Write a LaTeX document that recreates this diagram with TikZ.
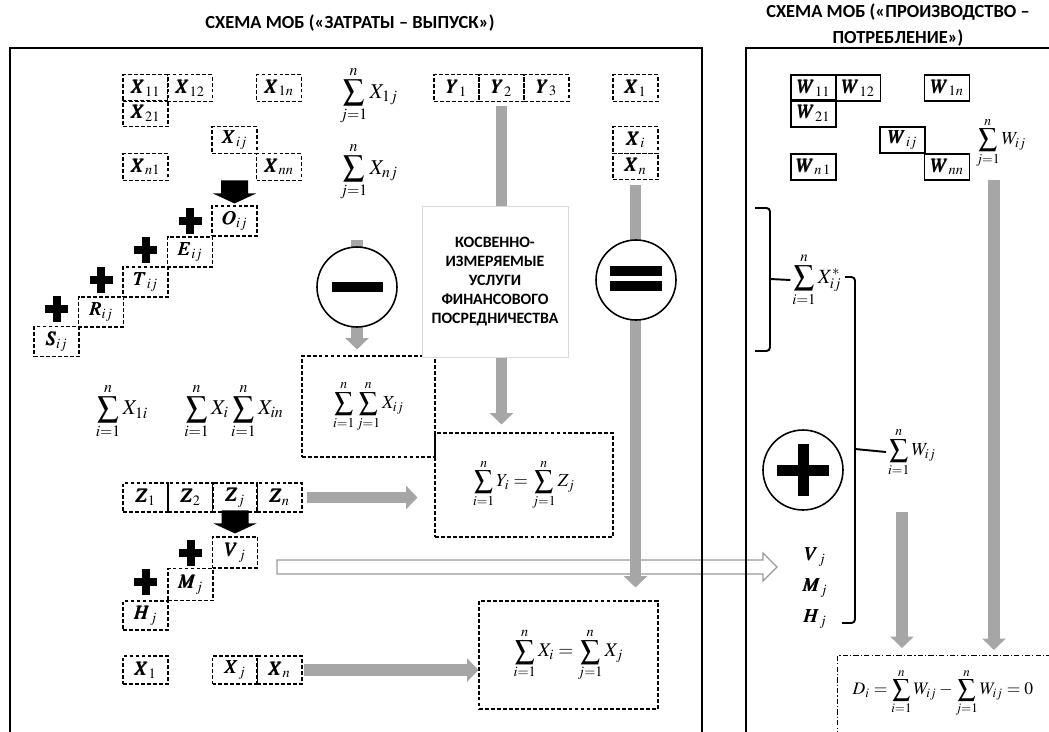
\documentclass[tikz,border=0pt]{standalone}
\usepackage{amsmath}
\usepackage{mathptmx}
\usepackage{bm}
\usepackage[no-math]{fontspec}
\newfontfamily\capsfont{Carlito}
\usetikzlibrary{arrows.meta,calc}
\definecolor{gshade}{HTML}{A6A6A6}

\begin{document}
\begin{tikzpicture}[x=0.02cm, y=-0.02cm,
    cell/.style={draw, dash pattern=on 2.2pt off 1.2pt, line width=0.6pt, minimum width=0.9cm, minimum height=0.53cm, inner sep=0pt, font=\fontsize{11}{13}\selectfont},
    tallcell/.style={cell, minimum height=0.6cm},
    wcell/.style={draw, line width=0.9pt, minimum width=0.9cm, minimum height=0.53cm, inner sep=0pt, font=\fontsize{11}{13}\selectfont},
    sumf/.style={inner sep=1pt, font=\fontsize{10.5}{12}\selectfont},
    sumbig/.style={inner sep=1pt, font=\fontsize{12}{14}\selectfont},
    bigbox/.style={draw, dash pattern=on 2.2pt off 1.2pt, line width=0.6pt, inner sep=0pt, font=\fontsize{10.5}{12}\selectfont},
    frame/.style={line width=0.8pt},
    gshaft/.style={draw=gshade, line width=6.5pt},
    gtip/.style={-{Triangle[width=13pt,length=6.5pt]}},
    bracket/.style={line width=1.1pt, rounded corners=2pt},
    blkdown/.pic={\fill (-13.5,-25) -- (13.5,-25) -- (13.5,-12) -- (21.5,-12) -- (0,-2) -- (-21.5,-12) -- (-13.5,-12) -- cycle;},
    blkplus/.pic={\fill (-4,-13) rectangle (4,13); \fill (-11.5,-4) rectangle (11.5,4);}]
    \useasboundingbox (0,0) rectangle (1049,731);

    % titles
    \node[font=\capsfont\bfseries\fontsize{10.5}{14.7}\selectfont] (t1) at (350,23) {СХЕМА МОБ («ЗАТРАТЫ – ВЫПУСК»)};
    \node[font=\capsfont\bfseries\fontsize{10.5}{14.7}\selectfont, align=center] (t2) at (898,25) {СХЕМА МОБ («ПРОИЗВОДСТВО –\\ПОТРЕБЛЕНИЕ»)};

    % hollow arrow to the right panel
    \draw[line width=0.7pt, draw=gray!80, fill=white] (277,560) -- (763,560) -- (763,553) -- (777,567) -- (763,581) -- (763,574) -- (277,574) -- cycle;

    % panels
    \draw[frame] (10,745) -- (10,48) -- (702,48) -- (702,745);
    \draw[frame] (746,745) -- (746,48) -- (1060,48);

    % matrix X
    \node[cell] (X11) at (145.5,88) {$\bm{X_{11}}$};
    \node[cell] (X12) at (190,88) {$\bm{X_{12}}$};
    \node[cell] (X1n) at (279,88) {$\bm{X_{1n}}$};
    \node[cell] (X21) at (145.5,113.5) {$\bm{X_{21}}$};
    \node[cell] (Xij) at (234.5,140) {$\bm{X_{ij}}$};
    \node[cell] (Xn1) at (145.5,167) {$\bm{X_{n1}}$};
    \node[cell] (Xnn) at (279,167) {$\bm{X_{nn}}$};

    \node[sumbig] (S1j) at (369,96) {$\displaystyle\sum_{j=1}^{n} X_{1j}$};
    \node[sumbig] (Snj) at (369,172) {$\displaystyle\sum_{j=1}^{n} X_{nj}$};

    % staircase
    \node[tallcell] (Oij) at (234.5,221) {$\bm{O_{ij}}$};
    \node[tallcell] (Eij) at (190,252) {$\bm{E_{ij}}$};
    \node[tallcell] (Tij) at (145.5,282) {$\bm{T_{ij}}$};
    \node[tallcell] (Rij) at (101,312) {$\bm{R_{ij}}$};
    \node[tallcell] (Sij) at (56.5,341.5) {$\bm{S_{ij}}$};
    \pic at (Oij.north) {blkdown};
    \pic at ([yshift=0.31cm]Eij.north) {blkplus};
    \pic at ([yshift=0.33cm]Tij.north) {blkplus};
    \pic at ([yshift=0.32cm]Rij.north) {blkplus};
    \pic at ([yshift=0.33cm]Sij.north) {blkplus};

    % Y and X columns
    \node[cell] (Y1) at (456.5,88) {$\bm{Y_{1}}$};
    \node[cell] (Y2) at (501.5,88) {$\bm{Y_{2}}$};
    \node[cell] (Y3) at (546.5,88) {$\bm{Y_{3}}$};
    \node[cell] (Xr1) at (635.5,88) {$\bm{X_{1}}$};
    \node[cell] (Xri) at (635.5,140) {$\bm{X_{i}}$};
    \node[cell] (Xrn) at (635.5,166.5) {$\bm{X_{n}}$};

    % column sums
    \node[sumbig] (S1i) at (122,411) {$\displaystyle\sum_{i=1}^{n} X_{1i}$};
    \node[sumbig] (Sin) at (234,411) {$\displaystyle\sum_{i=1}^{n} X_{i}\sum_{i=1}^{n} X_{in}$};
    \node[bigbox, minimum width=2.66cm, minimum height=2.02cm] (dbl) at (368.5,406.5) {$\displaystyle\sum_{i=1}^{n}\sum_{j=1}^{n} X_{ij}$};
    \node[bigbox, minimum width=3.56cm, minimum height=2.08cm] (YZ) at (524,485) {$\displaystyle\sum_{i=1}^{n} Y_{i}=\sum_{j=1}^{n} Z_{j}$};
    \node[bigbox, minimum width=3.58cm, minimum height=2.16cm, font=\fontsize{11}{13}\selectfont] (XX) at (568.5,655) {$\displaystyle\sum_{i=1}^{n} X_{i}=\sum_{j=1}^{n} X_{j}$};

    % Z, V, M, H and X rows
    \node[cell, minimum height=0.58cm] (Z1) at (145.5,497.5) {$\bm{Z_{1}}$};
    \node[cell, minimum height=0.58cm] (Z2) at (190.5,497.5) {$\bm{Z_{2}}$};
    \node[cell, minimum height=0.58cm] (Zj) at (235,497.5) {$\bm{Z_{j}}$};
    \node[cell, minimum height=0.58cm] (Zn) at (279.5,497.5) {$\bm{Z_{n}}$};
    \node[tallcell, minimum height=0.62cm] (Vj) at (235,552.5) {$\bm{V_{j}}$};
    \node[tallcell, minimum height=0.64cm] (Mj) at (190.5,584.5) {$\bm{M_{j}}$};
    \node[tallcell, minimum height=0.58cm] (Hj) at (145.5,615.5) {$\bm{H_{j}}$};
    \pic at ([yshift=0.02cm]Vj.north) {blkdown};
    \pic at ([yshift=0.3cm]Mj.north) {blkplus};
    \pic at ([yshift=0.36cm]Hj.north) {blkplus};
    \node[cell, minimum height=0.56cm] (Xb1) at (145.5,670) {$\bm{X_{1}}$};
    \node[cell, minimum height=0.56cm] (Xbj) at (235,670) {$\bm{X_{j}}$};
    \node[cell, minimum height=0.56cm] (Xbn) at (279.5,670) {$\bm{X_{n}}$};

    % right panel
    \node[wcell] (W11) at (813.5,88) {$\bm{W_{11}}$};
    \node[wcell] (W12) at (858,88) {$\bm{W_{12}}$};
    \node[wcell] (W1n) at (947,88) {$\bm{W_{1n}}$};
    \node[wcell] (W21) at (813.5,113.5) {$\bm{W_{21}}$};
    \node[wcell] (Wij) at (902.5,140) {$\bm{W_{ij}}$};
    \node[wcell] (Wn1) at (813.5,167) {$\bm{W_{n\,1}}$};
    \node[wcell] (Wnn) at (947,167) {$\bm{W_{nn}}$};
    \node[sumf] (SWj) at (1001,143) {$\displaystyle\sum_{j=1}^{n} W_{ij}$};
    \node[sumf, font=\fontsize{11.5}{13}\selectfont] (SXs) at (817,280) {$\displaystyle\sum_{i=1}^{n} X^{*}_{ij}$};
    \node[sumf] (SWi) at (912,452) {$\displaystyle\sum_{i=1}^{n} W_{ij}$};
    \node[font=\fontsize{11}{13}\selectfont] (Vr) at (815,557) {$\bm{V_{j}}$};
    \node[font=\fontsize{11}{13}\selectfont] (Mr) at (815,588) {$\bm{M_{j}}$};
    \node[font=\fontsize{11}{13}\selectfont] (Hr) at (815,619) {$\bm{H_{j}}$};
    \node[draw, dash pattern=on 3pt off 1.2pt on 0.7pt off 1.2pt, line width=0.6pt, anchor=north west, minimum width=5cm, minimum height=2cm] (Dbox) at (837,655) {};
    \node[font=\fontsize{10}{12}\selectfont] (Dfm) at (943,693) {$\displaystyle D_{i}=\sum_{i=1}^{n} W_{ij}-\sum_{j=1}^{n} W_{ij}=0$};

    \draw[bracket] (755,208) -- (770,208) -- (770,351) -- (755,351);
    \draw[line width=1.1pt] (770,279) -- (SXs.west);
    \draw[bracket] (845,277) -- (855,277) -- (855,623) -- (842,623);
    \draw[line width=1.1pt] (855,449) -- (SWi.west);

    % grey flows
    \coordinate (mtop) at (357,240);
    \coordinate (wtop) at (994,180);
    \coordinate (wmid) at (902,512);
    \draw[gshaft, gtip, shorten <=0.08cm, shorten >=0.16cm] (Y2.south) -- (Y2.south |- YZ.north);
    \draw[gshaft, gtip, shorten >=0.12cm] (mtop) -- (mtop |- dbl.north);
    \draw[gshaft, gtip, shorten <=0.1cm, shorten >=0.26cm] (Xrn.south) -- (Xrn.south |- XX.north);
    \draw[gshaft, gtip, shorten <=0.08cm, shorten >=0.34cm] (Zn.east) -- (Zn.east -| YZ.west);
    \draw[gshaft, gtip, shorten <=0.02cm] (Xbn.east) -- (Xbn.east -| XX.west);
    \draw[gshaft, gtip, shorten >=0.1cm] (wtop) -- (wtop |- Dbox.north);
    \draw[gshaft, gtip, shorten >=0.14cm] (wmid) -- (wmid |- Dbox.north);

    % services box and signs
    \node[draw=gray!30, fill=white, minimum width=2.92cm, minimum height=3.02cm, align=center, font=\capsfont\bfseries\fontsize{9}{10.8}\selectfont] (kbox) at (495,281.5) {КОСВЕННО-\\ИЗМЕРЯЕМЫЕ\\УСЛУГИ\\ФИНАНСОВОГО\\ПОСРЕДНИЧЕСТВА};
    \node[circle, draw, line width=0.9pt, fill=white, minimum size=1.6cm, inner sep=0pt] (minus) at (357,287) {};
    \fill ($(minus)+(-25.5,-5)$) rectangle ($(minus)+(25.5,5)$);
    \node[circle, draw, line width=0.9pt, fill=white, minimum size=1.6cm, inner sep=0pt] (eq) at (636,280) {};
    \fill ($(eq)+(-26,-14)$) rectangle ($(eq)+(26,-4)$);
    \fill ($(eq)+(-26,1)$) rectangle ($(eq)+(26,11)$);
    \node[circle, draw, line width=0.9pt, fill=white, minimum size=1.6cm, inner sep=0pt] (plus) at (803,470) {};
    \fill ($(plus)+(-26,-5.5)$) rectangle ($(plus)+(26,5.5)$);
    \fill ($(plus)+(-5.5,-26)$) rectangle ($(plus)+(5.5,26)$);
\end{tikzpicture}
\end{document}
